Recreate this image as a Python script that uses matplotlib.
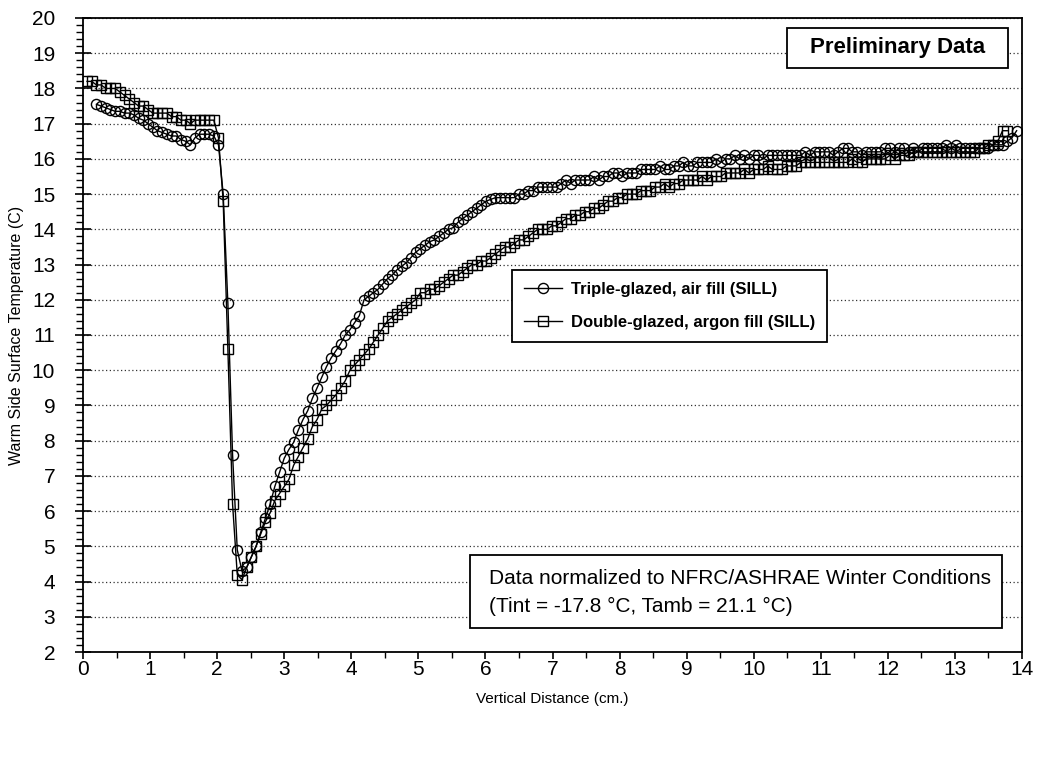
import numpy as np
import matplotlib
matplotlib.use('Agg')
import matplotlib.pyplot as plt
from matplotlib.patches import Rectangle
from matplotlib.ticker import MultipleLocator

plt.rcParams['font.family'] = ['Liberation Sans', 'DejaVu Sans']

nan = np.nan

distance_cm = [
    0.06, 0.13, 0.20, 0.27, 0.34, 0.41, 0.48, 0.55, 0.62, 0.69,
    0.76, 0.83, 0.90, 0.97, 1.04, 1.11, 1.18, 1.25, 1.32, 1.39,
    1.46, 1.53, 1.60, 1.67, 1.74, 1.81, 1.88, 1.95, 2.02, 2.09,
    2.16, 2.23, 2.30, 2.37, 2.44, 2.51, 2.58, 2.65, 2.72, 2.79,
    2.86, 2.93, 3.00, 3.07, 3.14, 3.21, 3.28, 3.35, 3.42, 3.49,
    3.56, 3.63, 3.70, 3.77, 3.84, 3.91, 3.98, 4.05, 4.12, 4.19,
    4.26, 4.33, 4.40, 4.47, 4.54, 4.61, 4.68, 4.75, 4.82, 4.89,
    4.96, 5.03, 5.10, 5.17, 5.24, 5.31, 5.38, 5.45, 5.52, 5.59,
    5.66, 5.73, 5.80, 5.87, 5.94, 6.01, 6.08, 6.15, 6.22, 6.29,
    6.36, 6.43, 6.50, 6.57, 6.64, 6.71, 6.78, 6.85, 6.92, 6.99,
    7.06, 7.13, 7.20, 7.27, 7.34, 7.41, 7.48, 7.55, 7.62, 7.69,
    7.76, 7.83, 7.90, 7.97, 8.04, 8.11, 8.18, 8.25, 8.32, 8.39,
    8.46, 8.53, 8.60, 8.67, 8.74, 8.81, 8.88, 8.95, 9.02, 9.09,
    9.16, 9.23, 9.30, 9.37, 9.44, 9.51, 9.58, 9.65, 9.72, 9.79,
    9.86, 9.93, 10.00, 10.07, 10.14, 10.21, 10.28, 10.35, 10.42, 10.49,
    10.56, 10.63, 10.70, 10.77, 10.84, 10.91, 10.98, 11.05, 11.12, 11.19,
    11.26, 11.33, 11.40, 11.47, 11.54, 11.61, 11.68, 11.75, 11.82, 11.89,
    11.96, 12.03, 12.10, 12.17, 12.24, 12.31, 12.38, 12.45, 12.52, 12.59,
    12.66, 12.73, 12.80, 12.87, 12.94, 13.01, 13.08, 13.15, 13.22, 13.29,
    13.36, 13.43, 13.50, 13.57, 13.64, 13.71, 13.78, 13.85, 13.92,
]

triple_air = [
    nan, nan, 17.55, 17.5, 17.45, 17.4, 17.35, 17.35, 17.3, 17.3,
    17.25, 17.15, 17.1, 17.0, 16.9, 16.8, 16.75, 16.7, 16.65, 16.65,
    16.55, 16.5, 16.4, 16.6, 16.7, 16.7, 16.7, 16.65, 16.4, 15.0,
    11.9, 7.6, 4.9, 4.3, 4.4, 4.7, 5.0, 5.4, 5.8, 6.2,
    6.7, 7.1, 7.5, 7.75, 7.95, 8.3, 8.6, 8.85, 9.2, 9.5,
    9.8, 10.1, 10.35, 10.55, 10.75, 11.0, 11.15, 11.35, 11.55, 12.0,
    12.1, 12.2, 12.3, 12.45, 12.6, 12.7, 12.85, 12.95, 13.05, 13.2,
    13.35, 13.45, 13.55, 13.65, 13.7, 13.8, 13.9, 14.0, 14.05, 14.2,
    14.3, 14.4, 14.5, 14.6, 14.7, 14.8, 14.85, 14.9, 14.9, 14.9,
    14.9, 14.9, 15.0, 15.0, 15.1, 15.1, 15.2, 15.2, 15.2, 15.2,
    15.2, 15.3, 15.4, 15.3, 15.4, 15.4, 15.4, 15.4, 15.5, 15.4,
    15.5, 15.5, 15.6, 15.6, 15.5, 15.6, 15.6, 15.6, 15.7, 15.7,
    15.7, 15.7, 15.8, 15.7, 15.7, 15.8, 15.8, 15.9, 15.8, 15.8,
    15.9, 15.9, 15.9, 15.9, 16.0, 15.9, 16.0, 16.0, 16.1, 16.0,
    16.1, 16.0, 16.1, 16.1, 16.0, 16.1, 16.1, 16.1, 16.1, 16.1,
    16.1, 16.1, 16.1, 16.2, 16.1, 16.2, 16.2, 16.2, 16.2, 16.1,
    16.2, 16.3, 16.3, 16.2, 16.2, 16.1, 16.2, 16.2, 16.2, 16.2,
    16.3, 16.3, 16.2, 16.3, 16.3, 16.2, 16.3, 16.2, 16.3, 16.3,
    16.3, 16.3, 16.3, 16.4, 16.3, 16.4, 16.3, 16.3, 16.3, 16.3,
    16.3, 16.3, 16.3, 16.4, 16.4, 16.4, 16.5, 16.6, 16.8,
]

double_argon = [
    18.2, 18.2, 18.1, 18.1, 18.0, 18.0, 18.0, 17.9, 17.8, 17.7,
    17.6, 17.5, 17.5, 17.4, 17.3, 17.3, 17.3, 17.3, 17.2, 17.2,
    17.1, 17.1, 17.0, 17.1, 17.1, 17.1, 17.1, 17.1, 16.6, 14.8,
    10.6, 6.2, 4.2, 4.05, 4.4, 4.7, 5.0, 5.35, 5.7, 5.95,
    6.3, 6.5, 6.7, 6.9, 7.3, 7.55, 7.8, 8.05, 8.4, 8.6,
    8.9, 9.0, 9.15, 9.3, 9.5, 9.7, 10.0, 10.15, 10.3, 10.45,
    10.6, 10.8, 11.0, 11.2, 11.4, 11.5, 11.6, 11.7, 11.8, 11.9,
    12.0, 12.2, 12.2, 12.3, 12.3, 12.4, 12.5, 12.6, 12.7, 12.7,
    12.8, 12.9, 13.0, 13.0, 13.1, 13.1, 13.2, 13.3, 13.4, 13.5,
    13.5, 13.6, 13.7, 13.7, 13.8, 13.9, 14.0, 14.0, 14.0, 14.1,
    14.1, 14.2, 14.3, 14.3, 14.4, 14.4, 14.5, 14.5, 14.6, 14.6,
    14.7, 14.8, 14.8, 14.9, 14.9, 15.0, 15.0, 15.0, 15.1, 15.1,
    15.1, 15.2, 15.2, 15.3, 15.2, 15.3, 15.3, 15.4, 15.4, 15.4,
    15.4, 15.5, 15.4, 15.5, 15.5, 15.5, 15.6, 15.6, 15.6, 15.6,
    15.7, 15.6, 15.7, 15.7, 15.7, 15.8, 15.7, 15.7, 15.7, 15.8,
    15.8, 15.8, 15.9, 15.9, 15.9, 15.9, 15.9, 15.9, 15.9, 15.9,
    15.9, 15.9, 15.9, 16.0, 15.9, 15.9, 16.0, 16.0, 16.0, 16.0,
    16.0, 16.1, 16.0, 16.1, 16.1, 16.1, 16.2, 16.2, 16.2, 16.2,
    16.2, 16.2, 16.2, 16.2, 16.2, 16.2, 16.2, 16.2, 16.2, 16.2,
    16.3, 16.3, 16.4, 16.4, 16.5, 16.8, 16.8, nan, nan,
]

series_labels = ['Triple-glazed, air fill (SILL)', 'Double-glazed, argon fill (SILL)']
x_ticks = list(range(0, 15))
y_ticks = list(range(2, 21))

fig = plt.figure(figsize=(10.4, 7.65), dpi=100)
ax = fig.add_axes([83 / 1040, 1 - 652 / 765, 939 / 1040, 634 / 765])

ax.plot(distance_cm, triple_air, '-', color='black', lw=1.0, marker='o', ms=7.3,
        mfc='none', mec='black', mew=1.0, label=series_labels[0], zorder=4)
ax.plot(distance_cm, double_argon, '-', color='black', lw=1.0, marker='s', ms=6.5,
        mfc='none', mec='black', mew=1.0, label=series_labels[1], zorder=4)

ax.set_xlim(0, 14)
ax.set_ylim(2, 20)
ax.set_xticks(x_ticks)
ax.set_yticks(y_ticks)
ax.xaxis.set_minor_locator(MultipleLocator(0.5))
ax.yaxis.set_minor_locator(MultipleLocator(0.2))
ax.tick_params(axis='y', which='major', direction='inout', length=12, width=1.2,
               labelsize=15, pad=14)
ax.tick_params(axis='y', which='minor', direction='out', length=5, width=1.0)
ax.tick_params(axis='x', which='major', direction='out', length=5, width=1.2,
               labelsize=15, pad=1)
ax.tick_params(axis='x', which='minor', direction='out', length=4, width=1.0)
ax.grid(axis='y', which='major', linestyle=(0, (1, 2)), color='#333333', lw=0.9)
ax.set_axisbelow(True)
for s in ax.spines.values():
    s.set_linewidth(1.3)
    s.set_color('black')

ax.set_xlabel('Vertical Distance (cm.)', fontsize=11, labelpad=9)
ax.set_ylabel('Warm Side Surface Temperature (C)', fontsize=11.5, labelpad=6)

leg = ax.legend(loc='upper left', bbox_to_anchor=(6.40 / 14, (12.85 - 2) / 18),
                prop={'weight': 'bold', 'size': 12}, frameon=True, fancybox=False,
                edgecolor='black', framealpha=1, borderaxespad=0, handlelength=2.3,
                borderpad=0.7, labelspacing=1.1, handletextpad=0.55)
leg.get_frame().set_linewidth(1.3)

ax.add_patch(Rectangle((10.50, 18.58), 3.29, 1.14, fc='white', ec='black', lw=1.3, zorder=5))
ax.text(12.15, 19.15, 'Preliminary Data', ha='center', va='center',
        fontsize=16, fontweight='bold', zorder=6)

ax.add_patch(Rectangle((5.77, 2.68), 7.93, 2.07, fc='white', ec='black', lw=1.3, zorder=5))
ax.text(6.05, 4.10, 'Data normalized to NFRC/ASHRAE Winter Conditions', ha='left',
        va='center', fontsize=15, zorder=6)
ax.text(6.05, 3.29, '(Tint = -17.8 \u00b0C, Tamb = 21.1 \u00b0C)', ha='left',
        va='center', fontsize=15, zorder=6)

fig.savefig('out.png', dpi=100)
